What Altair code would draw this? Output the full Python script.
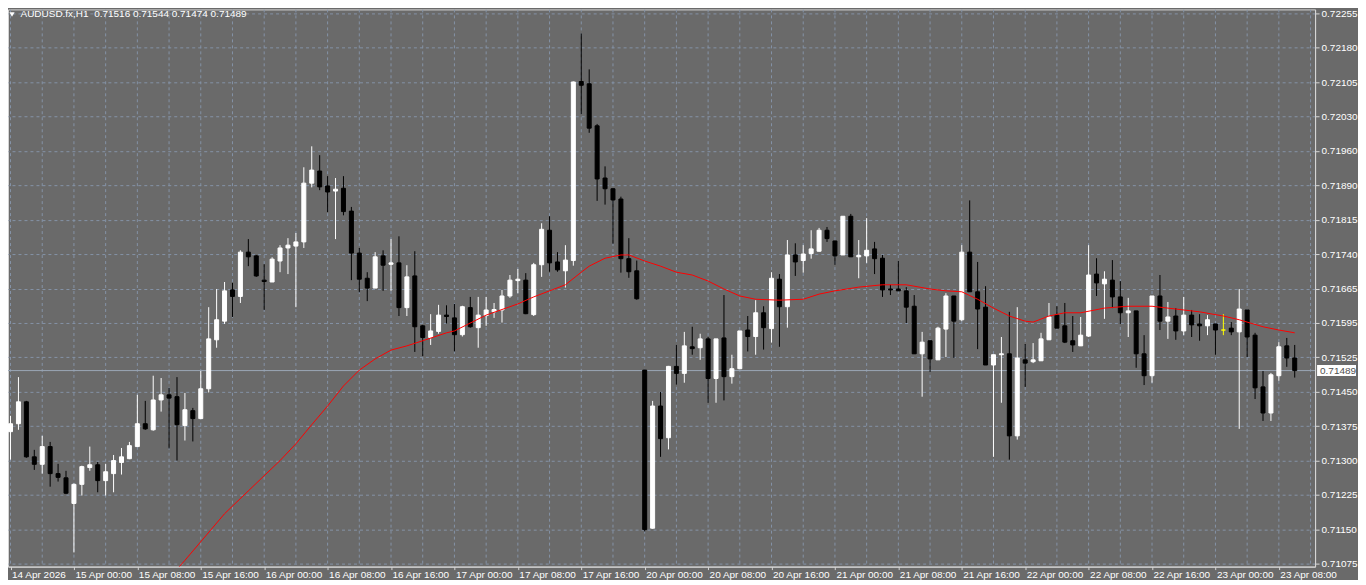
import altair as alt
import pandas as pd

SYMBOL = "AUDUSD.fx,H1"

OPEN = [
    0.71358, 0.71375, 0.71422, 0.71304, 0.71288, 0.71326, 0.71268, 0.71259, 0.71204, 0.71245,
    0.71281, 0.71287, 0.71253, 0.71268, 0.71292, 0.71300, 0.71326, 0.71375, 0.71362, 0.71426,
    0.71437, 0.71433, 0.71371, 0.71403, 0.71386, 0.71450, 0.71555, 0.71595, 0.71662, 0.71648,
    0.71743, 0.71735, 0.71683, 0.71679, 0.71724, 0.71752, 0.71756, 0.71765, 0.71891, 0.71917,
    0.71885, 0.71874, 0.71880, 0.71831, 0.71741, 0.71687, 0.71666, 0.71735, 0.71717, 0.71720,
    0.71624, 0.71692, 0.71585, 0.71560, 0.71573, 0.71608, 0.71602, 0.71566, 0.71624, 0.71581,
    0.71607, 0.71615, 0.71619, 0.71649, 0.71682, 0.71683, 0.71609, 0.71716, 0.71790, 0.71722,
    0.71703, 0.71725, 0.72109, 0.72104, 0.72014, 0.71902, 0.71879, 0.71857, 0.71729, 0.71703,
    0.71490, 0.71151, 0.71413, 0.71345, 0.71498, 0.71483, 0.71540, 0.71538, 0.71557, 0.71472,
    0.71559, 0.71476, 0.71493, 0.71576, 0.71562, 0.71613, 0.71579, 0.71685, 0.71626, 0.71737,
    0.71725, 0.71740, 0.71745, 0.71790, 0.71767, 0.71737, 0.71820, 0.71733, 0.71735, 0.71750,
    0.71730, 0.71664, 0.71664, 0.71660, 0.71627, 0.71525, 0.71553, 0.71512, 0.71578, 0.71649,
    0.71598, 0.71743, 0.71658, 0.71625, 0.71501, 0.71523, 0.71525, 0.71349, 0.71512, 0.71508,
    0.71510, 0.71555, 0.71608, 0.71585, 0.71553, 0.71542, 0.71563, 0.71696, 0.71675, 0.71683,
    0.71647, 0.71613, 0.71617, 0.71525, 0.71478, 0.71649, 0.71595, 0.71606, 0.71574, 0.71608,
    0.71589, 0.71585, 0.71589, 0.71576, 0.71580, 0.71572, 0.71619, 0.71565, 0.71454, 0.71398,
    0.71478, 0.71542, 0.71516,
]

HIGH = [
    0.71392, 0.71475, 0.71424, 0.71319, 0.71349, 0.71336, 0.71289, 0.71274, 0.71247, 0.71285,
    0.71326, 0.71293, 0.71289, 0.71308, 0.71323, 0.71336, 0.71437, 0.71424, 0.71478, 0.71473,
    0.71452, 0.71475, 0.71441, 0.71409, 0.71488, 0.71625, 0.71664, 0.71679, 0.71677, 0.71747,
    0.71771, 0.71737, 0.71717, 0.71732, 0.71758, 0.71773, 0.71784, 0.71925, 0.71970, 0.71951,
    0.71906, 0.71902, 0.71906, 0.71840, 0.71752, 0.71700, 0.71743, 0.71747, 0.71771, 0.71777,
    0.71715, 0.71745, 0.71587, 0.71610, 0.71630, 0.71629, 0.71632, 0.71628, 0.71647, 0.71647,
    0.71647, 0.71634, 0.71662, 0.71694, 0.71707, 0.71698, 0.71720, 0.71805, 0.71820, 0.71743,
    0.71758, 0.72109, 0.72212, 0.72135, 0.72018, 0.71927, 0.71880, 0.71862, 0.71773, 0.71725,
    0.71491, 0.71424, 0.71443, 0.71499, 0.71544, 0.71572, 0.71583, 0.71568, 0.71561, 0.71557,
    0.71651, 0.71523, 0.71574, 0.71606, 0.71640, 0.71627, 0.71700, 0.71696, 0.71769, 0.71762,
    0.71758, 0.71790, 0.71795, 0.71797, 0.71767, 0.71820, 0.71825, 0.71769, 0.71816, 0.71765,
    0.71737, 0.71673, 0.71724, 0.71668, 0.71651, 0.71572, 0.71553, 0.71583, 0.71655, 0.71649,
    0.71758, 0.71854, 0.71722, 0.71670, 0.71523, 0.71561, 0.71615, 0.71625, 0.71546, 0.71548,
    0.71570, 0.71634, 0.71627, 0.71634, 0.71606, 0.71604, 0.71758, 0.71730, 0.71702, 0.71726,
    0.71681, 0.71645, 0.71617, 0.71565, 0.71649, 0.71694, 0.71636, 0.71623, 0.71647, 0.71619,
    0.71610, 0.71608, 0.71589, 0.71610, 0.71593, 0.71664, 0.71619, 0.71570, 0.71488, 0.71484,
    0.71550, 0.71559, 0.71544,
]

LOW = [
    0.71298, 0.71362, 0.71302, 0.71276, 0.71268, 0.71240, 0.71251, 0.71224, 0.71099, 0.71221,
    0.71274, 0.71228, 0.71221, 0.71228, 0.71266, 0.71299, 0.71325, 0.71362, 0.71360, 0.71401,
    0.71322, 0.71296, 0.71339, 0.71337, 0.71385, 0.71442, 0.71538, 0.71589, 0.71604, 0.71634,
    0.71713, 0.71690, 0.71619, 0.71679, 0.71700, 0.71696, 0.71625, 0.71752, 0.71882, 0.71876,
    0.71829, 0.71771, 0.71822, 0.71683, 0.71657, 0.71638, 0.71666, 0.71660, 0.71660, 0.71606,
    0.71606, 0.71529, 0.71520, 0.71544, 0.71568, 0.71590, 0.71530, 0.71562, 0.71581, 0.71538,
    0.71585, 0.71602, 0.71592, 0.71645, 0.71655, 0.71610, 0.71606, 0.71690, 0.71701, 0.71701,
    0.71667, 0.71714, 0.72039, 0.71999, 0.71853, 0.71845, 0.71761, 0.71699, 0.71688, 0.71641,
    0.71144, 0.71150, 0.71304, 0.71320, 0.71459, 0.71463, 0.71523, 0.71512, 0.71420, 0.71420,
    0.71425, 0.71461, 0.71493, 0.71530, 0.71523, 0.71534, 0.71549, 0.71540, 0.71581, 0.71692,
    0.71699, 0.71729, 0.71744, 0.71765, 0.71716, 0.71737, 0.71733, 0.71687, 0.71720, 0.71696,
    0.71647, 0.71651, 0.71660, 0.71591, 0.71525, 0.71433, 0.71486, 0.71512, 0.71518, 0.71516,
    0.71595, 0.71658, 0.71535, 0.71501, 0.71304, 0.71420, 0.71298, 0.71341, 0.71454, 0.71505,
    0.71510, 0.71555, 0.71580, 0.71548, 0.71529, 0.71542, 0.71561, 0.71649, 0.71600, 0.71623,
    0.71589, 0.71561, 0.71495, 0.71458, 0.71463, 0.71576, 0.71557, 0.71555, 0.71565, 0.71561,
    0.71553, 0.71565, 0.71523, 0.71565, 0.71565, 0.71364, 0.71518, 0.71428, 0.71381, 0.71381,
    0.71467, 0.71497, 0.71474,
]

CLOSE = [
    0.71375, 0.71422, 0.71304, 0.71288, 0.71326, 0.71268, 0.71260, 0.71226, 0.71245, 0.71283,
    0.71287, 0.71253, 0.71272, 0.71296, 0.71304, 0.71328, 0.71375, 0.71364, 0.71426, 0.71437,
    0.71430, 0.71373, 0.71405, 0.71386, 0.71450, 0.71557, 0.71598, 0.71660, 0.71648, 0.71743,
    0.71733, 0.71692, 0.71680, 0.71728, 0.71752, 0.71758, 0.71765, 0.71891, 0.71919, 0.71883,
    0.71872, 0.71878, 0.71830, 0.71741, 0.71685, 0.71666, 0.71733, 0.71715, 0.71720, 0.71624,
    0.71690, 0.71583, 0.71560, 0.71574, 0.71608, 0.71605, 0.71566, 0.71626, 0.71583, 0.71608,
    0.71619, 0.71620, 0.71649, 0.71683, 0.71685, 0.71611, 0.71716, 0.71792, 0.71720, 0.71705,
    0.71726, 0.72108, 0.72101, 0.72009, 0.71900, 0.71879, 0.71855, 0.71729, 0.71701, 0.71643,
    0.71148, 0.71413, 0.71343, 0.71498, 0.71483, 0.71542, 0.71536, 0.71557, 0.71472, 0.71557,
    0.71476, 0.71493, 0.71574, 0.71562, 0.71613, 0.71581, 0.71687, 0.71626, 0.71737, 0.71722,
    0.71739, 0.71750, 0.71790, 0.71772, 0.71735, 0.71820, 0.71733, 0.71736, 0.71747, 0.71729,
    0.71662, 0.71662, 0.71660, 0.71625, 0.71525, 0.71550, 0.71514, 0.71580, 0.71649, 0.71595,
    0.71743, 0.71658, 0.71621, 0.71501, 0.71523, 0.71525, 0.71349, 0.71516, 0.71505, 0.71512,
    0.71557, 0.71604, 0.71580, 0.71550, 0.71544, 0.71565, 0.71694, 0.71677, 0.71685, 0.71647,
    0.71613, 0.71617, 0.71525, 0.71478, 0.71649, 0.71595, 0.71604, 0.71574, 0.71608, 0.71587,
    0.71585, 0.71598, 0.71576, 0.71576, 0.71572, 0.71621, 0.71561, 0.71452, 0.71398, 0.71480,
    0.71540, 0.71516, 0.71489,
]

# red moving-average line at selected bars
MA_BAR = [21, 22, 27, 30, 34, 36, 38, 40, 42, 44,
          46, 48, 50, 52, 55, 56, 60, 64, 66, 68,
          70, 72, 73, 75, 77, 78, 80, 82, 84, 86,
          88, 90, 92, 94, 97, 100, 102, 104, 107, 110,
          113, 116, 118, 120, 122, 124, 126, 128, 129, 131,
          133, 135, 138, 141, 144, 147, 150, 153, 155, 158,
          160, 162]
MA_PRICE = [0.71063, 0.71082, 0.71182, 0.71231, 0.71296, 0.71332, 0.71373, 0.71413, 0.71456, 0.71490,
            0.71514, 0.71533, 0.71542, 0.71553, 0.71570, 0.71574, 0.71608, 0.71632, 0.71647, 0.71660,
            0.71673, 0.71700, 0.71713, 0.71730, 0.71737, 0.71737, 0.71724, 0.71713, 0.71700, 0.71694,
            0.71681, 0.71664, 0.71649, 0.71642, 0.71640, 0.71642, 0.71653, 0.71660, 0.71668, 0.71673,
            0.71673, 0.71664, 0.71660, 0.71658, 0.71642, 0.71623, 0.71606, 0.71595, 0.71593, 0.71606,
            0.71613, 0.71613, 0.71623, 0.71627, 0.71627, 0.71621, 0.71615, 0.71606, 0.71598, 0.71583,
            0.71576, 0.71570]

# time labels, one every 8 bars starting at bar 0
TIME_LABELS = ["14 Apr 2026", "15 Apr 00:00", "15 Apr 08:00", "15 Apr 16:00", "16 Apr 00:00",
               "16 Apr 08:00", "16 Apr 16:00", "17 Apr 00:00", "17 Apr 08:00", "17 Apr 16:00",
               "20 Apr 00:00", "20 Apr 08:00", "20 Apr 16:00", "21 Apr 00:00", "21 Apr 08:00",
               "21 Apr 16:00", "22 Apr 00:00", "22 Apr 08:00", "22 Apr 16:00", "23 Apr 00:00",
               "23 Apr 08:00"]

PRICE_LABELS = ["0.72255", "0.72180", "0.72105", "0.72030", "0.71960", "0.71890", "0.71815",
                "0.71740", "0.71665", "0.71595", "0.71525", "0.71450", "0.71375", "0.71300",
                "0.71225", "0.71150", "0.71075"]

# ---------------------------------------------------------------- layout
W, H = 1309, 558
BG = "#6a6a6a"
GRID = "#8593a7"
FRAME = "#d6d6d6"
FONT = "Liberation Sans"
FS = 10

n = len(OPEN)
df = pd.DataFrame({"bar": list(range(n)), "open": OPEN, "high": HIGH,
                   "low": LOW, "close": CLOSE})
df["dir"] = ["up" if c > o else ("down" if c < o else "flat")
             for o, c in zip(OPEN, CLOSE)]
ma_df = pd.DataFrame({"bar": MA_BAR, "ma": MA_PRICE})
grid_df = pd.DataFrame({"bar": list(range(0, n + 2, 4))})

top_label = float(PRICE_LABELS[0])
step = (float(PRICE_LABELS[0]) - float(PRICE_LABELS[-1])) / (len(PRICE_LABELS) - 1)
ytick_vals = [top_label - k * step for k in range(len(PRICE_LABELS))]

xscale = alt.Scale(domain=[0.3125, 163.9375], nice=False, zero=False)
yscale = alt.Scale(domain=[0.710686, 0.722636], nice=False, zero=False)
cscale = alt.Scale(domain=["up", "down", "flat"], range=["#ffffff", "#000000", "#ffff00"])

time_expr = "[" + ",".join("'%s'" % s for s in TIME_LABELS) + "][round(datum.value/8)]"
price_expr = ("[" + ",".join("'%s'" % s for s in PRICE_LABELS) + "]"
              + "[round((%.5f - datum.value)/%.7f)]" % (top_label, step))

xaxis = alt.Axis(orient="bottom", values=list(range(0, n, 8)), labelExpr=time_expr,
                 title=None, grid=False, domain=True, domainColor=FRAME, tickColor=FRAME,
                 tickSize=3, labelAlign="left", labelBaseline="top", labelPadding=0,
                 labelOffset=1, labelColor="#ffffff", labelFont=FONT, labelFontSize=FS,
                 labelOverlap=False, labelFlush=False, minExtent=11, maxExtent=11)
yaxis = alt.Axis(orient="right", values=ytick_vals, labelExpr=price_expr, title=None,
                 grid=True, gridColor=GRID, gridDash=[3, 3], gridWidth=1,
                 domain=True, domainColor=FRAME, tickColor=FRAME, tickSize=4,
                 labelPadding=2, labelColor="#ffffff", labelFont=FONT, labelFontSize=FS,
                 labelBaseline="middle", labelOverlap=False, labelFlush=False,
                 minExtent=41, maxExtent=41)

X = alt.X("bar:Q", scale=xscale, axis=xaxis)

vgrid = alt.Chart(grid_df).mark_rule(color=GRID, strokeDash=[3, 3], strokeWidth=1,
                                     clip=True).encode(x=X)

last = df.iloc[-1]
price_line = alt.Chart(df.tail(1)).mark_rule(color="#9aa6b6", strokeWidth=1, clip=True).encode(
    y=alt.Y("close:Q", scale=yscale, axis=yaxis))

wicks = alt.Chart(df).mark_rule(strokeWidth=1, clip=True).encode(
    x=X,
    y=alt.Y("low:Q", scale=yscale, axis=yaxis),
    y2="high:Q",
    color=alt.Color("dir:N", scale=cscale, legend=None),
)

bodies = alt.Chart(df).mark_bar(width=4, strokeWidth=1, clip=True).encode(
    x=X,
    y=alt.Y("open:Q", scale=yscale, axis=yaxis),
    y2="close:Q",
    fill=alt.Color("dir:N", scale=cscale, legend=None),
    stroke=alt.Color("dir:N", scale=cscale, legend=None),
)

ma_line = alt.Chart(ma_df).mark_line(color="#ff0000", strokeWidth=1, clip=True).encode(
    x=X, y=alt.Y("ma:Q", scale=yscale, axis=yaxis))

header = "%s\u00a0 %.5f %.5f %.5f %.5f" % (SYMBOL, last["open"], last["high"],
                                          last["low"], last["close"])
title_text = alt.Chart(pd.DataFrame({"t": [header]})).mark_text(
    align="left", baseline="middle", font=FONT, fontSize=FS, color="#ffffff").encode(
    x=alt.value(12.5), y=alt.value(5), text="t:N")

tri = alt.Chart(pd.DataFrame({"t": [1]})).mark_point(
    shape="triangle-down", filled=True, color="#ffffff", size=28, opacity=1).encode(
    x=alt.value(4), y=alt.value(5))

tag_box = alt.Chart(df.tail(1)).mark_rect(color="#ffffff", yOffset=-5.5, y2Offset=5.5).encode(
    x=alt.value(W + 2), x2=alt.value(W + 41),
    y=alt.Y("close:Q", scale=yscale, axis=yaxis), y2="close:Q")

tag_text = alt.Chart(df.tail(1)).transform_calculate(
    lbl="format(datum.close, '.5f')").mark_text(
    align="left", baseline="middle", font=FONT, fontSize=FS, color="#505050").encode(
    x=alt.value(W + 5), y=alt.Y("close:Q", scale=yscale, axis=yaxis), text="lbl:N")

chart = alt.layer(vgrid, price_line, wicks, bodies, ma_line, title_text, tri,
                  tag_box, tag_text).properties(
    width=W, height=H, background=BG, padding=0
).configure_view(stroke=FRAME, strokeWidth=1, fill=BG)

chart.save("out.html", embed_options={"renderer": "svg", "actions": False})
